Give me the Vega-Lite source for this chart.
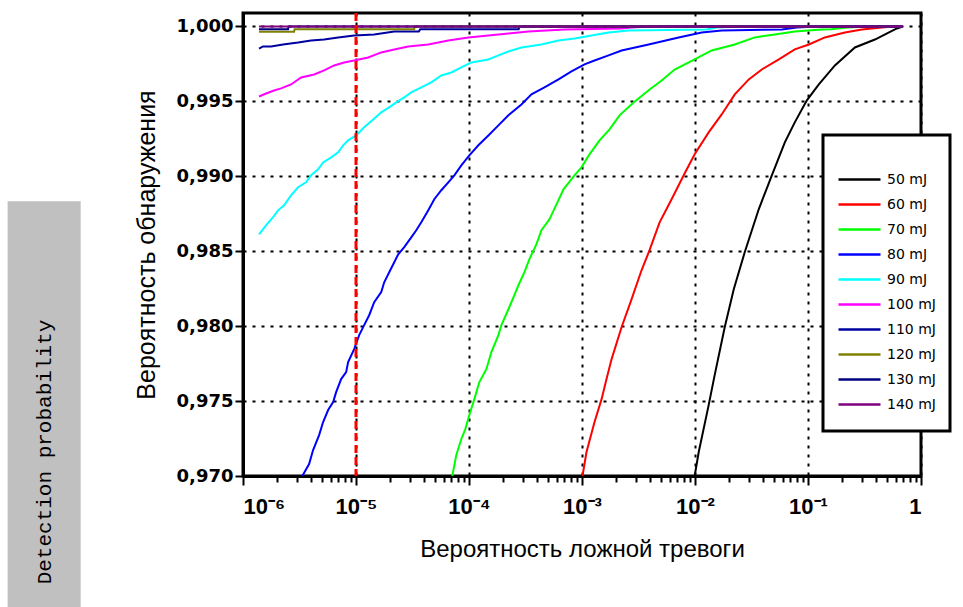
{
  "$schema": "https://vega.github.io/schema/vega-lite/v6.json",
  "background": "white",
  "padding": {"left": 7, "top": 11, "right": 0, "bottom": 0},
  "width": 678,
  "height": 463,
  "view": {"stroke": "black", "strokeWidth": 3},
  "config": {"font": "Liberation Sans"},
  "layer": [
    {
      "data": {"values": [{"left": 8.26e-9, "right": 3.66e-8, "bottom": 0.96113, "top": 0.98833}]},
      "mark": {"type": "rect", "color": "#c0c0c0", "clip": false},
      "encoding": {
        "x": {"field": "left", "type": "quantitative", "scale": {"type": "log", "domain": [0.000001, 1]}},
        "x2": {"field": "right"},
        "y": {"field": "bottom", "type": "quantitative", "scale": {"domain": [0.97, 1.0009], "nice": false, "zero": false}},
        "y2": {"field": "top"}
      }
    },
    {
      "data": {"values": [{"label": "Detection probability", "cx": 1.76e-8, "cy": 0.9716}]},
      "mark": {"type": "text", "angle": 270, "font": "Liberation Mono", "fontSize": 21, "color": "black", "align": "center", "baseline": "middle", "clip": false},
      "encoding": {
        "text": {"field": "label"},
        "x": {"field": "cx", "type": "quantitative"},
        "y": {"field": "cy", "type": "quantitative"}
      }
    },
    {
      "data": {"values": [
        {"energy": "50 mJ", "far": 0.00993, "pd": 0.97},
        {"energy": "50 mJ", "far": 0.01079, "pd": 0.9716},
        {"energy": "50 mJ", "far": 0.01321, "pd": 0.97473},
        {"energy": "50 mJ", "far": 0.01493, "pd": 0.97673},
        {"energy": "50 mJ", "far": 0.01832, "pd": 0.97993},
        {"energy": "50 mJ", "far": 0.02203, "pd": 0.98247},
        {"energy": "50 mJ", "far": 0.02754, "pd": 0.98493},
        {"energy": "50 mJ", "far": 0.03664, "pd": 0.9878},
        {"energy": "50 mJ", "far": 0.04786, "pd": 0.99007},
        {"energy": "50 mJ", "far": 0.06237, "pd": 0.99227},
        {"energy": "50 mJ", "far": 0.07638, "pd": 0.9936},
        {"energy": "50 mJ", "far": 0.09772, "pd": 0.99507},
        {"energy": "50 mJ", "far": 0.1247, "pd": 0.99613},
        {"energy": "50 mJ", "far": 0.173, "pd": 0.9974},
        {"energy": "50 mJ", "far": 0.26, "pd": 0.9986},
        {"energy": "50 mJ", "far": 0.3909, "pd": 0.99913},
        {"energy": "50 mJ", "far": 0.5212, "pd": 0.9996},
        {"energy": "50 mJ", "far": 0.6124, "pd": 0.99987},
        {"energy": "50 mJ", "far": 0.69, "pd": 1.0},

        {"energy": "60 mJ", "far": 0.00101, "pd": 0.97},
        {"energy": "60 mJ", "far": 0.001096, "pd": 0.9716},
        {"energy": "60 mJ", "far": 0.001291, "pd": 0.9736},
        {"energy": "60 mJ", "far": 0.00149, "pd": 0.97513},
        {"energy": "60 mJ", "far": 0.001648, "pd": 0.97647},
        {"energy": "60 mJ", "far": 0.001828, "pd": 0.9778},
        {"energy": "60 mJ", "far": 0.002239, "pd": 0.97993},
        {"energy": "60 mJ", "far": 0.002748, "pd": 0.9818},
        {"energy": "60 mJ", "far": 0.003365, "pd": 0.98373},
        {"energy": "60 mJ", "far": 0.003962, "pd": 0.98507},
        {"energy": "60 mJ", "far": 0.004862, "pd": 0.98693},
        {"energy": "60 mJ", "far": 0.006207, "pd": 0.98847},
        {"energy": "60 mJ", "far": 0.007943, "pd": 0.99007},
        {"energy": "60 mJ", "far": 0.009931, "pd": 0.99147},
        {"energy": "60 mJ", "far": 0.01321, "pd": 0.99293},
        {"energy": "60 mJ", "far": 0.01722, "pd": 0.99413},
        {"energy": "60 mJ", "far": 0.02249, "pd": 0.99547},
        {"energy": "60 mJ", "far": 0.02992, "pd": 0.99647},
        {"energy": "60 mJ", "far": 0.03899, "pd": 0.99713},
        {"energy": "60 mJ", "far": 0.05521, "pd": 0.9978},
        {"energy": "60 mJ", "far": 0.07638, "pd": 0.99847},
        {"energy": "60 mJ", "far": 0.1019, "pd": 0.9988},
        {"energy": "60 mJ", "far": 0.1409, "pd": 0.99927},
        {"energy": "60 mJ", "far": 0.2123, "pd": 0.9996},
        {"energy": "60 mJ", "far": 0.2999, "pd": 0.9998},
        {"energy": "60 mJ", "far": 0.452, "pd": 0.99993},
        {"energy": "60 mJ", "far": 0.553, "pd": 1.0},
        {"energy": "60 mJ", "far": 0.69, "pd": 1.0},

        {"energy": "70 mJ", "far": 7.116e-5, "pd": 0.97},
        {"energy": "70 mJ", "far": 7.72e-5, "pd": 0.9714},
        {"energy": "70 mJ", "far": 8.553e-5, "pd": 0.97247},
        {"energy": "70 mJ", "far": 9.28e-5, "pd": 0.97313},
        {"energy": "70 mJ", "far": 1.007e-4, "pd": 0.97407},
        {"energy": "70 mJ", "far": 1.115e-4, "pd": 0.97513},
        {"energy": "70 mJ", "far": 1.235e-4, "pd": 0.97627},
        {"energy": "70 mJ", "far": 1.424e-4, "pd": 0.97713},
        {"energy": "70 mJ", "far": 1.578e-4, "pd": 0.97827},
        {"energy": "70 mJ", "far": 1.82e-4, "pd": 0.9794},
        {"energy": "70 mJ", "far": 1.935e-4, "pd": 0.98007},
        {"energy": "70 mJ", "far": 2.232e-4, "pd": 0.98113},
        {"energy": "70 mJ", "far": 2.522e-4, "pd": 0.98207},
        {"energy": "70 mJ", "far": 2.737e-4, "pd": 0.98273},
        {"energy": "70 mJ", "far": 3.094e-4, "pd": 0.9836},
        {"energy": "70 mJ", "far": 3.426e-4, "pd": 0.98447},
        {"energy": "70 mJ", "far": 3.953e-4, "pd": 0.98547},
        {"energy": "70 mJ", "far": 4.377e-4, "pd": 0.9864},
        {"energy": "70 mJ", "far": 5.152e-4, "pd": 0.98713},
        {"energy": "70 mJ", "far": 5.944e-4, "pd": 0.98813},
        {"energy": "70 mJ", "far": 6.857e-4, "pd": 0.98913},
        {"energy": "70 mJ", "far": 8.58e-4, "pd": 0.99007},
        {"energy": "70 mJ", "far": 9.9e-4, "pd": 0.9906},
        {"energy": "70 mJ", "far": 1.165e-3, "pd": 0.99147},
        {"energy": "70 mJ", "far": 1.43e-3, "pd": 0.9924},
        {"energy": "70 mJ", "far": 1.753e-3, "pd": 0.99313},
        {"energy": "70 mJ", "far": 2.15e-3, "pd": 0.99407},
        {"energy": "70 mJ", "far": 2.861e-3, "pd": 0.99493},
        {"energy": "70 mJ", "far": 3.966e-3, "pd": 0.9958},
        {"energy": "70 mJ", "far": 5.067e-3, "pd": 0.9964},
        {"energy": "70 mJ", "far": 6.606e-3, "pd": 0.99713},
        {"energy": "70 mJ", "far": 9.93e-3, "pd": 0.9978},
        {"energy": "70 mJ", "far": 1.405e-2, "pd": 0.9984},
        {"energy": "70 mJ", "far": 2.247e-2, "pd": 0.9988},
        {"energy": "70 mJ", "far": 3.38e-2, "pd": 0.99927},
        {"energy": "70 mJ", "far": 5.085e-2, "pd": 0.99947},
        {"energy": "70 mJ", "far": 7.645e-2, "pd": 0.99967},
        {"energy": "70 mJ", "far": 0.1327, "pd": 0.9998},
        {"energy": "70 mJ", "far": 0.16, "pd": 0.99982},
        {"energy": "70 mJ", "far": 0.221, "pd": 0.99993},
        {"energy": "70 mJ", "far": 0.35, "pd": 1.0},
        {"energy": "70 mJ", "far": 0.69, "pd": 1.0},

        {"energy": "80 mJ", "far": 3.35e-6, "pd": 0.97},
        {"energy": "80 mJ", "far": 3.846e-6, "pd": 0.9708},
        {"energy": "80 mJ", "far": 4.172e-6, "pd": 0.97173},
        {"energy": "80 mJ", "far": 4.716e-6, "pd": 0.97273},
        {"energy": "80 mJ", "far": 5.117e-6, "pd": 0.9736},
        {"energy": "80 mJ", "far": 5.667e-6, "pd": 0.9744},
        {"energy": "80 mJ", "far": 6.277e-6, "pd": 0.97493},
        {"energy": "80 mJ", "far": 6.672e-6, "pd": 0.9756},
        {"energy": "80 mJ", "far": 7.389e-6, "pd": 0.97647},
        {"energy": "80 mJ", "far": 8.18e-6, "pd": 0.97693},
        {"energy": "80 mJ", "far": 8.52e-6, "pd": 0.9776},
        {"energy": "80 mJ", "far": 9.63e-6, "pd": 0.97847},
        {"energy": "80 mJ", "far": 1.067e-5, "pd": 0.9794},
        {"energy": "80 mJ", "far": 1.181e-5, "pd": 0.98007},
        {"energy": "80 mJ", "far": 1.308e-5, "pd": 0.98073},
        {"energy": "80 mJ", "far": 1.449e-5, "pd": 0.9816},
        {"energy": "80 mJ", "far": 1.672e-5, "pd": 0.98227},
        {"energy": "80 mJ", "far": 1.777e-5, "pd": 0.98293},
        {"energy": "80 mJ", "far": 1.968e-5, "pd": 0.9836},
        {"energy": "80 mJ", "far": 2.18e-5, "pd": 0.98427},
        {"energy": "80 mJ", "far": 2.364e-5, "pd": 0.9848},
        {"energy": "80 mJ", "far": 2.673e-5, "pd": 0.98527},
        {"energy": "80 mJ", "far": 3.083e-5, "pd": 0.98593},
        {"energy": "80 mJ", "far": 3.415e-5, "pd": 0.9864},
        {"energy": "80 mJ", "far": 3.782e-5, "pd": 0.98693},
        {"energy": "80 mJ", "far": 4.362e-5, "pd": 0.98773},
        {"energy": "80 mJ", "far": 4.93e-5, "pd": 0.98847},
        {"energy": "80 mJ", "far": 5.687e-5, "pd": 0.98907},
        {"energy": "80 mJ", "far": 6.561e-5, "pd": 0.9896},
        {"energy": "80 mJ", "far": 7.416e-5, "pd": 0.99007},
        {"energy": "80 mJ", "far": 8.553e-5, "pd": 0.99073},
        {"energy": "80 mJ", "far": 1.007e-4, "pd": 0.9914},
        {"energy": "80 mJ", "far": 1.21e-4, "pd": 0.99207},
        {"energy": "80 mJ", "far": 1.484e-4, "pd": 0.99273},
        {"energy": "80 mJ", "far": 1.82e-4, "pd": 0.9934},
        {"energy": "80 mJ", "far": 2.232e-4, "pd": 0.99407},
        {"energy": "80 mJ", "far": 2.91e-4, "pd": 0.9948},
        {"energy": "80 mJ", "far": 3.569e-4, "pd": 0.99547},
        {"energy": "80 mJ", "far": 4.653e-4, "pd": 0.99593},
        {"energy": "80 mJ", "far": 6.192e-4, "pd": 0.99647},
        {"energy": "80 mJ", "far": 8.07e-4, "pd": 0.997},
        {"energy": "80 mJ", "far": 1.052e-3, "pd": 0.99747},
        {"energy": "80 mJ", "far": 1.29e-3, "pd": 0.99773},
        {"energy": "80 mJ", "far": 1.718e-3, "pd": 0.99807},
        {"energy": "80 mJ", "far": 2.24e-3, "pd": 0.9984},
        {"energy": "80 mJ", "far": 3.886e-3, "pd": 0.9988},
        {"energy": "80 mJ", "far": 7.166e-3, "pd": 0.99927},
        {"energy": "80 mJ", "far": 1.146e-2, "pd": 0.9996},
        {"energy": "80 mJ", "far": 1.724e-2, "pd": 0.99973},
        {"energy": "80 mJ", "far": 5.865e-2, "pd": 0.9998},
        {"energy": "80 mJ", "far": 7.965e-2, "pd": 0.99993},
        {"energy": "80 mJ", "far": 0.12, "pd": 1.0},
        {"energy": "80 mJ", "far": 0.69, "pd": 1.0},

        {"energy": "90 mJ", "far": 1.386e-6, "pd": 0.98613},
        {"energy": "90 mJ", "far": 1.599e-6, "pd": 0.98673},
        {"energy": "90 mJ", "far": 1.845e-6, "pd": 0.98727},
        {"energy": "90 mJ", "far": 2.043e-6, "pd": 0.98773},
        {"energy": "90 mJ", "far": 2.309e-6, "pd": 0.98807},
        {"energy": "90 mJ", "far": 2.663e-6, "pd": 0.98873},
        {"energy": "90 mJ", "far": 3.073e-6, "pd": 0.98927},
        {"energy": "90 mJ", "far": 3.617e-6, "pd": 0.9896},
        {"energy": "90 mJ", "far": 4.006e-6, "pd": 0.99007},
        {"energy": "90 mJ", "far": 4.621e-6, "pd": 0.99047},
        {"energy": "90 mJ", "far": 5.117e-6, "pd": 0.99093},
        {"energy": "90 mJ", "far": 6.026e-6, "pd": 0.99127},
        {"energy": "90 mJ", "far": 6.95e-6, "pd": 0.9916},
        {"energy": "90 mJ", "far": 7.697e-6, "pd": 0.99207},
        {"energy": "90 mJ", "far": 8.52e-6, "pd": 0.9924},
        {"energy": "90 mJ", "far": 1.003e-5, "pd": 0.99273},
        {"energy": "90 mJ", "far": 1.181e-5, "pd": 0.99327},
        {"energy": "90 mJ", "far": 1.42e-5, "pd": 0.9938},
        {"energy": "90 mJ", "far": 1.672e-5, "pd": 0.99427},
        {"energy": "90 mJ", "far": 1.968e-5, "pd": 0.9946},
        {"energy": "90 mJ", "far": 2.27e-5, "pd": 0.99493},
        {"energy": "90 mJ", "far": 2.673e-5, "pd": 0.99527},
        {"energy": "90 mJ", "far": 3.083e-5, "pd": 0.9956},
        {"energy": "90 mJ", "far": 3.782e-5, "pd": 0.99593},
        {"energy": "90 mJ", "far": 4.638e-5, "pd": 0.99627},
        {"energy": "90 mJ", "far": 5.687e-5, "pd": 0.99673},
        {"energy": "90 mJ", "far": 6.975e-5, "pd": 0.99693},
        {"energy": "90 mJ", "far": 8.553e-5, "pd": 0.99727},
        {"energy": "90 mJ", "far": 1.049e-4, "pd": 0.9976},
        {"energy": "90 mJ", "far": 1.484e-4, "pd": 0.9978},
        {"energy": "90 mJ", "far": 1.82e-4, "pd": 0.99807},
        {"energy": "90 mJ", "far": 2.232e-4, "pd": 0.99833},
        {"energy": "90 mJ", "far": 2.91e-4, "pd": 0.9986},
        {"energy": "90 mJ", "far": 4.377e-4, "pd": 0.9988},
        {"energy": "90 mJ", "far": 6.192e-4, "pd": 0.99907},
        {"energy": "90 mJ", "far": 8.58e-4, "pd": 0.9992},
        {"energy": "90 mJ", "far": 1.214e-3, "pd": 0.9994},
        {"energy": "90 mJ", "far": 1.718e-3, "pd": 0.9996},
        {"energy": "90 mJ", "far": 2.584e-3, "pd": 0.99973},
        {"energy": "90 mJ", "far": 1.269e-2, "pd": 0.9998},
        {"energy": "90 mJ", "far": 1.556e-2, "pd": 0.99993},
        {"energy": "90 mJ", "far": 0.025, "pd": 1.0},
        {"energy": "90 mJ", "far": 0.69, "pd": 1.0},

        {"energy": "100 mJ", "far": 1.386e-6, "pd": 0.99533},
        {"energy": "100 mJ", "far": 1.599e-6, "pd": 0.99553},
        {"energy": "100 mJ", "far": 1.883e-6, "pd": 0.99573},
        {"energy": "100 mJ", "far": 2.171e-6, "pd": 0.99587},
        {"energy": "100 mJ", "far": 2.663e-6, "pd": 0.99613},
        {"energy": "100 mJ", "far": 3.266e-6, "pd": 0.9966},
        {"energy": "100 mJ", "far": 4.259e-6, "pd": 0.9968},
        {"energy": "100 mJ", "far": 5.223e-6, "pd": 0.99707},
        {"energy": "100 mJ", "far": 6.405e-6, "pd": 0.9974},
        {"energy": "100 mJ", "far": 7.856e-6, "pd": 0.9976},
        {"energy": "100 mJ", "far": 9.63e-6, "pd": 0.99773},
        {"energy": "100 mJ", "far": 1.282e-5, "pd": 0.99793},
        {"energy": "100 mJ", "far": 1.672e-5, "pd": 0.99827},
        {"energy": "100 mJ", "far": 2.18e-5, "pd": 0.99847},
        {"energy": "100 mJ", "far": 2.9e-5, "pd": 0.99867},
        {"energy": "100 mJ", "far": 4.362e-5, "pd": 0.9988},
        {"energy": "100 mJ", "far": 6.561e-5, "pd": 0.99907},
        {"energy": "100 mJ", "far": 9.87e-5, "pd": 0.99927},
        {"energy": "100 mJ", "far": 1.484e-4, "pd": 0.9994},
        {"energy": "100 mJ", "far": 2.232e-4, "pd": 0.99953},
        {"energy": "100 mJ", "far": 3.357e-4, "pd": 0.99967},
        {"energy": "100 mJ", "far": 6.998e-4, "pd": 0.9998},
        {"energy": "100 mJ", "far": 2.24e-3, "pd": 0.99987},
        {"energy": "100 mJ", "far": 2.746e-3, "pd": 0.99993},
        {"energy": "100 mJ", "far": 4.0e-3, "pd": 1.0},
        {"energy": "100 mJ", "far": 0.69, "pd": 1.0},

        {"energy": "110 mJ", "far": 1.386e-6, "pd": 0.99853},
        {"energy": "110 mJ", "far": 1.504e-6, "pd": 0.99867},
        {"energy": "110 mJ", "far": 1.771e-6, "pd": 0.99867},
        {"energy": "110 mJ", "far": 2.262e-6, "pd": 0.9988},
        {"energy": "110 mJ", "far": 3.073e-6, "pd": 0.99893},
        {"energy": "110 mJ", "far": 4.006e-6, "pd": 0.99907},
        {"energy": "110 mJ", "far": 5.223e-6, "pd": 0.99913},
        {"energy": "110 mJ", "far": 6.95e-6, "pd": 0.99927},
        {"energy": "110 mJ", "far": 9.63e-6, "pd": 0.9994},
        {"energy": "110 mJ", "far": 1.449e-5, "pd": 0.99947},
        {"energy": "110 mJ", "far": 2.18e-5, "pd": 0.99967},
        {"energy": "110 mJ", "far": 3.6e-5, "pd": 0.99967},
        {"energy": "110 mJ", "far": 3.7e-5, "pd": 0.99982},
        {"energy": "110 mJ", "far": 2.75e-4, "pd": 0.99982},
        {"energy": "110 mJ", "far": 2.8e-4, "pd": 1.0},
        {"energy": "110 mJ", "far": 0.69, "pd": 1.0},

        {"energy": "120 mJ", "far": 1.386e-6, "pd": 0.99965},
        {"energy": "120 mJ", "far": 2.832e-6, "pd": 0.99965},
        {"energy": "120 mJ", "far": 2.86e-6, "pd": 0.99982},
        {"energy": "120 mJ", "far": 3.277e-5, "pd": 0.99982},
        {"energy": "120 mJ", "far": 3.3e-5, "pd": 1.0},
        {"energy": "120 mJ", "far": 0.69, "pd": 1.0},

        {"energy": "130 mJ", "far": 1.386e-6, "pd": 0.99982},
        {"energy": "130 mJ", "far": 2.505e-6, "pd": 0.99982},
        {"energy": "130 mJ", "far": 2.53e-6, "pd": 1.0},
        {"energy": "130 mJ", "far": 0.69, "pd": 1.0},

        {"energy": "140 mJ", "far": 1.386e-6, "pd": 1.0},
        {"energy": "140 mJ", "far": 0.69, "pd": 1.0}
      ]},
      "mark": {"type": "line", "strokeWidth": 2, "clip": true},
      "encoding": {
        "x": {
          "field": "far", "type": "quantitative",
          "scale": {"type": "log", "domain": [0.000001, 1]},
          "axis": {
            "values": [0.000001, 2e-6, 3e-6, 4e-6, 5e-6, 6e-6, 7e-6, 8e-6, 9e-6, 0.00001, 2e-5, 3e-5, 4e-5, 5e-5, 6e-5, 7e-5, 8e-5, 9e-5, 0.0001, 2e-4, 3e-4, 4e-4, 5e-4, 6e-4, 7e-4, 8e-4, 9e-4, 0.001, 2e-3, 3e-3, 4e-3, 5e-3, 6e-3, 7e-3, 8e-3, 9e-3, 0.01, 2e-2, 3e-2, 4e-2, 5e-2, 6e-2, 7e-2, 8e-2, 9e-2, 0.1, 0.2, 0.3, 0.4, 0.5, 0.6, 0.7, 0.8, 0.9, 1],
            "labelExpr": "abs(log(datum.value)/LN10 - round(log(datum.value)/LN10)) > 0.01 ? '' : (datum.value >= 1 ? '1' : '10' + ['⁻⁶','⁻⁵','⁻⁴','⁻³','⁻²','⁻¹'][round(log(datum.value)/LN10)+6])",
            "labelOverlap": false,
            "grid": true, "gridColor": "black", "gridWidth": 2, "gridDash": [3, 6],
            "gridOpacity": {"condition": {"test": "abs(log(datum.value)/LN10 - round(log(datum.value)/LN10)) < 0.01", "value": 1}, "value": 0},
            "domainColor": "black", "domainWidth": 3,
            "tickColor": "black", "tickWidth": 2,
            "tickSize": {"condition": {"test": "abs(log(datum.value)/LN10 - round(log(datum.value)/LN10)) < 0.01", "value": 9}, "value": 6},
            "labelFont": "Liberation Sans", "labelFontSize": 22, "labelFontWeight": "bold", "labelColor": "black", "labelPadding": 11,
            "title": "Вероятность ложной тревоги",
            "titleFont": "Liberation Sans", "titleFontSize": 24, "titleFontWeight": "normal", "titleColor": "black", "titlePadding": 20
          }
        },
        "y": {
          "field": "pd", "type": "quantitative",
          "scale": {"domain": [0.97, 1.0009], "nice": false, "zero": false},
          "axis": {
            "values": [0.97, 0.975, 0.98, 0.985, 0.99, 0.995, 1.0],
            "labelExpr": "replace(format(datum.value, '.3f'), '.', ',')",
            "grid": true, "gridColor": "black", "gridWidth": 2, "gridDash": [3, 6], "gridOpacity": 1,
            "domainColor": "black", "domainWidth": 3,
            "tickColor": "black", "tickWidth": 2, "tickSize": 8,
            "labelFont": "DejaVu Sans", "labelFontSize": 18, "labelFontWeight": "bold", "labelColor": "black", "labelPadding": 2,
            "title": "Вероятность обнаружения",
            "titleFont": "Liberation Sans", "titleFontSize": 25, "titleFontWeight": "normal", "titleColor": "black", "titlePadding": 17
          }
        },
        "color": {
          "field": "energy", "type": "nominal",
          "scale": {
            "domain": ["50 mJ", "60 mJ", "70 mJ", "80 mJ", "90 mJ", "100 mJ", "110 mJ", "120 mJ", "130 mJ", "140 mJ"],
            "range": ["#000000", "#ff0000", "#00ff00", "#0000ff", "#00ffff", "#ff00ff", "#0000a0", "#808000", "#000080", "#800080"]
          },
          "legend": {
            "orient": "none", "legendX": 580, "legendY": 122,
            "title": " ", "titleFontSize": 10, "titlePadding": 8,
            "padding": 14,
            "fillColor": "white", "strokeColor": "black",
            "symbolType": "stroke", "symbolSize": 1764, "symbolStrokeWidth": 2.5,
            "labelFont": "DejaVu Sans", "labelFontSize": 14, "labelColor": "black", "labelOffset": 5,
            "clipHeight": 25, "rowPadding": 0,
            "encode": {"legend": {"update": {"strokeWidth": {"value": 3}}}}
          }
        }
      }
    },
    {
      "data": {"values": [{"far": 0.00001}]},
      "mark": {"type": "rule", "color": "#ff0000", "strokeWidth": 3, "strokeDash": [8, 4]},
      "encoding": {"x": {"field": "far", "type": "quantitative"}}
    }
  ]
}
